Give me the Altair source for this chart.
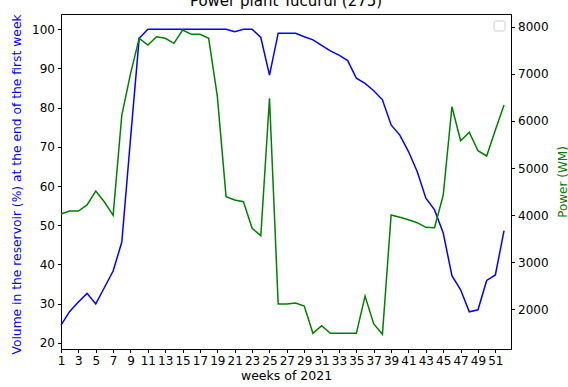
import altair as alt
import pandas as pd

weeks = list(range(1, 53))
volume = [24.5, 28.0, 30.4, 32.6, 29.9, 34.1, 38.3, 45.7, 72.0, 97.7,
          100, 100, 100, 100, 100, 100, 100, 100, 100, 100,
          99.4, 100, 100, 97.9, 88.3, 99.0, 99.0, 99.0, 98.1, 97.3,
          95.9, 94.5, 93.4, 92.0, 87.5, 86.2, 84.3, 82.0, 75.6, 73.0,
          68.8, 63.7, 56.9, 53.9, 48.0, 37.1, 33.5, 27.9, 28.4, 35.9,
          37.3, 48.6]
power = [4023, 4087, 4087, 4215, 4512, 4278, 3996, 6125, 7000, 7754,
         7611, 7788, 7754, 7647, 7930, 7838, 7838, 7754, 6514, 4391,
         4321, 4285, 3720, 3563, 6480, 2113, 2113, 2134, 2070, 1490,
         1652, 1490, 1490, 1490, 1490, 2282, 1688, 1469, 4002, 3953,
         3902, 3839, 3740, 3733, 4427, 6301, 5580, 5758, 5367, 5255,
         5807, 6338]
x_ticks = list(range(1, 52, 2))
vol_ticks = list(range(20, 101, 10))
pow_ticks = list(range(2000, 8001, 1000))
title_text = "Power plant Tucuruí (275)"

df = pd.DataFrame({"week": weeks, "volume": volume, "power": power})

FONT = "DejaVu Sans"

x = alt.X("week:Q",
          scale=alt.Scale(domain=[1, 52.8], nice=False, zero=False),
          axis=alt.Axis(values=x_ticks, title="weeks of 2021", labelOverlap=False,
                        grid=False, labelFontSize=12, titleFontSize=12.5,
                        tickSize=3.5, labelPadding=3, titlePadding=3,
                        labelFlush=False))

base = alt.Chart(df)

blue = base.mark_line(color="#0000ff", strokeWidth=1.5).encode(
    x=x,
    y=alt.Y("volume:Q",
            scale=alt.Scale(domain=[18.4, 103.9], nice=False, zero=False),
            axis=alt.Axis(values=vol_ticks, orient="left", grid=False, format="d",
                          title="Volume in the reservoir (%) at the end of the first week",
                          titleColor="#0000ff", titleFontSize=12.3, labelFontSize=12,
                          tickSize=3.5, labelPadding=3,
                          titleX=-45, titleY=170, titleAngle=270,
                          titleAlign="center", titleBaseline="middle"))
)

green = base.mark_line(color="#008000", strokeWidth=1.5).encode(
    x=x,
    y=alt.Y("power:Q",
            scale=alt.Scale(domain=[1157, 8270], nice=False, zero=False),
            axis=alt.Axis(values=pow_ticks, orient="right", grid=False, format="d",
                          title="Power (WM)", titleColor="#008000",
                          titleFontSize=12, labelFontSize=12,
                          tickSize=3.5, labelPadding=3,
                          titleX=51, titleY=167.5, titleAngle=270,
                          titleAlign="center", titleBaseline="middle"))
)

title = alt.Chart(pd.DataFrame({"t": [title_text]})).mark_text(
    fontSize=15, font=FONT, color="black", align="center", baseline="alphabetic"
).encode(text="t:N", x=alt.value(225), y=alt.value(-8.5))

legend_box = alt.Chart(pd.DataFrame({"a": [0]})).mark_rect(
    fill="white", stroke="#cccccc", strokeWidth=1, cornerRadius=2
).encode(x=alt.value(433), x2=alt.value(444), y=alt.value(7), y2=alt.value(17))

chart = alt.layer(blue, green, title, legend_box).resolve_scale(y="independent").properties(
    width=450, height=335,
    padding={"left": 61, "top": 14, "right": 57, "bottom": 38},
    autosize="none",
).configure_view(stroke="black", strokeWidth=1).configure_axis(
    domainColor="black", tickColor="black", labelColor="black", titleColor="black",
    labelFont=FONT, titleFont=FONT, titleFontWeight="normal", domainWidth=1
)

chart.save("out.html", embed_options={"renderer": "svg", "actions": False})
